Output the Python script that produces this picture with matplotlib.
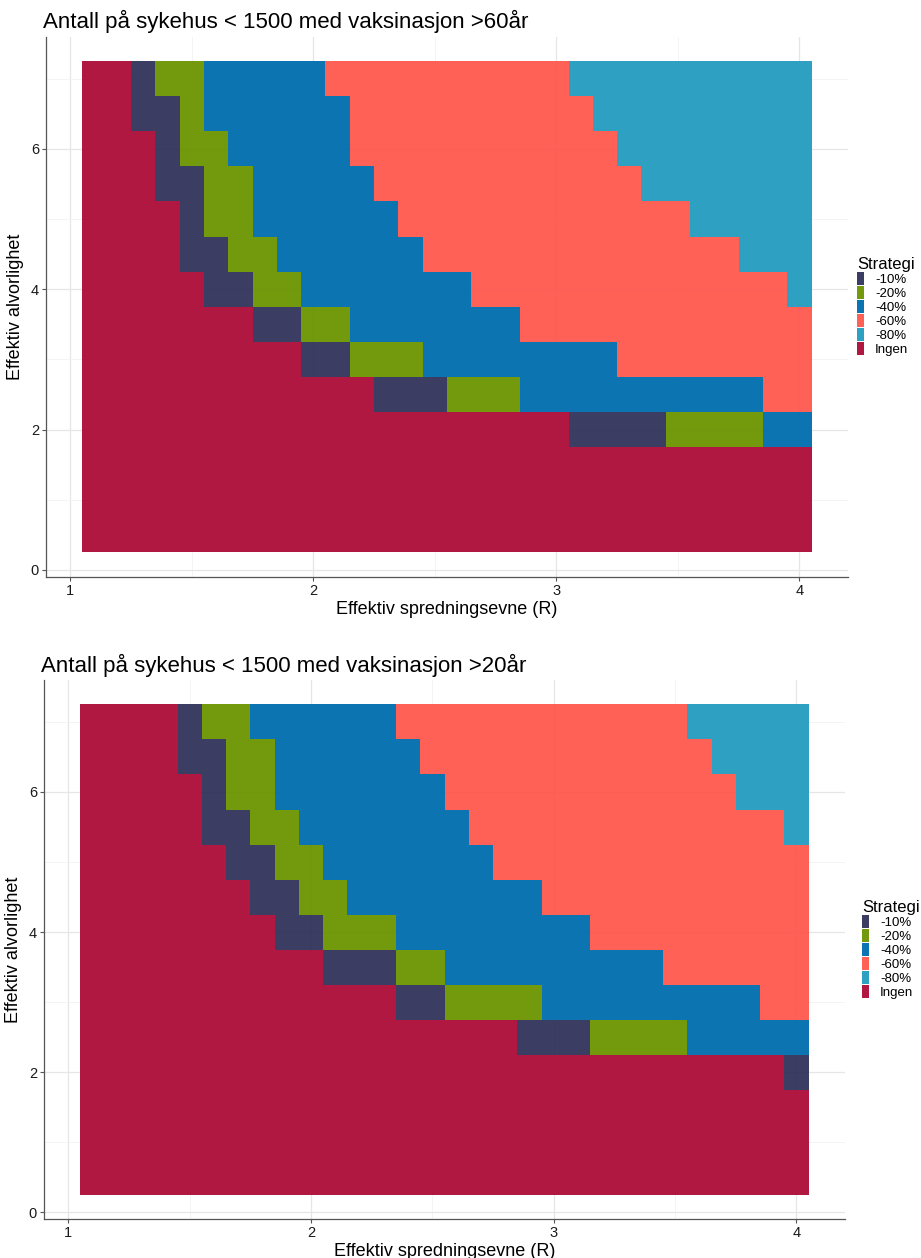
import numpy as np
import matplotlib
matplotlib.use("Agg")
import matplotlib.pyplot as plt
from matplotlib.colors import ListedColormap, BoundaryNorm
from matplotlib.patches import Patch

plt.rcParams['font.family'] = ['Liberation Sans', 'DejaVu Sans']

# effective R (columns) and effective severity (rows)
r_values = [1.1, 1.2, 1.3, 1.4, 1.5, 1.6, 1.7, 1.8, 1.9, 2.0,
            2.1, 2.2, 2.3, 2.4, 2.5, 2.6, 2.7, 2.8, 2.9, 3.0,
            3.1, 3.2, 3.3, 3.4, 3.5, 3.6, 3.7, 3.8, 3.9, 4.0]
severity = [0.5, 1.0, 1.5, 2.0, 2.5, 3.0, 3.5, 4.0, 4.5, 5.0, 5.5, 6.0, 6.5, 7.0]

# strategies from weakest to strongest
levels = ['Ingen', '-10%', '-20%', '-40%', '-60%', '-80%']
legend_order = ['-10%', '-20%', '-40%', '-60%', '-80%', 'Ingen']
level_colors = ['#AC0B37', '#30335A', '#6B9400', '#006DAE', '#FF584E', '#239BBE']

# number of R columns per strategy, one row per severity value (bottom to top)
runs_60 = [
    [30, 0, 0, 0, 0, 0],
    [30, 0, 0, 0, 0, 0],
    [30, 0, 0, 0, 0, 0],
    [20, 4, 4, 2, 0, 0],
    [12, 3, 3, 10, 2, 0],
    [9, 2, 3, 8, 8, 0],
    [7, 2, 2, 7, 12, 0],
    [5, 2, 2, 7, 13, 1],
    [4, 2, 2, 6, 13, 3],
    [4, 1, 2, 6, 12, 5],
    [3, 2, 2, 5, 11, 7],
    [3, 1, 2, 5, 11, 8],
    [2, 2, 1, 6, 10, 9],
    [2, 1, 2, 5, 10, 10],
]
runs_20 = [
    [30, 0, 0, 0, 0, 0],
    [30, 0, 0, 0, 0, 0],
    [30, 0, 0, 0, 0, 0],
    [29, 1, 0, 0, 0, 0],
    [18, 3, 4, 5, 0, 0],
    [13, 2, 4, 9, 2, 0],
    [10, 3, 2, 9, 6, 0],
    [8, 2, 3, 8, 9, 0],
    [7, 2, 2, 8, 11, 0],
    [6, 2, 2, 7, 13, 0],
    [5, 2, 2, 7, 13, 1],
    [5, 1, 2, 7, 12, 3],
    [4, 2, 2, 6, 12, 4],
    [4, 1, 2, 6, 12, 5],
]

W, H = 921, 1258
# (title, data, axes rect in px: left, top, right, bottom, legend left px)
panels = [
    ('Antall på sykehus < 1500 med vaksinasjon >60år', runs_60, (46, 36.5, 848, 577), 857),
    ('Antall på sykehus < 1500 med vaksinasjon >20år', runs_20, (44, 680, 845, 1219), 862),
]

cmap = ListedColormap(level_colors)
norm = BoundaryNorm(np.arange(-0.5, len(levels)), cmap.N)

r = np.array(r_values)
s = np.array(severity)
x_edges = np.append(r - 0.05, r[-1] + 0.05)
y_edges = np.append(s - 0.25, s[-1] + 0.25)

fig = plt.figure(figsize=(W / 100, H / 100), dpi=100)

for title, runs, (l, t, rgt, b), leg_left in panels:
    ax = fig.add_axes([l / W, 1 - b / H, (rgt - l) / W, (b - t) / H])
    codes = np.array([np.repeat(np.arange(len(levels)), row) for row in runs])
    ax.pcolormesh(x_edges, y_edges, codes, cmap=cmap, norm=norm,
                  alpha=0.95, linewidth=0, zorder=2)

    ax.set_xlim(0.9, 4.2)
    ax.set_ylim(-0.1, 7.6)
    ax.set_xticks([1, 2, 3, 4])
    ax.set_yticks([0, 2, 4, 6])
    ax.set_xticks([1.5, 2.5, 3.5], minor=True)
    ax.set_yticks([1, 3, 5, 7], minor=True)
    ax.grid(which='major', color='#E6E6E6', linewidth=0.9, zorder=0)
    ax.grid(which='minor', color='#F3F3F3', linewidth=0.6, zorder=0)
    ax.set_axisbelow(True)
    ax.tick_params(which='major', length=3, width=0.8, color='#555555',
                   labelsize=10.5, labelcolor='#1a1a1a', pad=2)
    ax.tick_params(which='minor', length=0)
    for side in ['top', 'right']:
        ax.spines[side].set_visible(False)
    for side in ['left', 'bottom']:
        ax.spines[side].set_color('#555555')
        ax.spines[side].set_linewidth(0.9)

    ax.set_title(title, loc='left', fontsize=16, pad=6, x=-0.004)
    ax.set_xlabel('Effektiv spredningsevne (R)', fontsize=13, labelpad=2)
    ax.set_ylabel('Effektiv alvorlighet', fontsize=13, labelpad=5)

    handles = [Patch(facecolor=level_colors[levels.index(k)], alpha=0.95,
                     edgecolor='none') for k in legend_order]
    ax.legend(handles, legend_order, title='Strategi', loc='center left',
              bbox_to_anchor=(leg_left / W, 1 - (t + b) / 2 / H),
              bbox_transform=fig.transFigure, frameon=False,
              fontsize=9.5, title_fontsize=12, handlelength=0.56,
              handleheight=1.15, labelspacing=0.0, handletextpad=0.8,
              borderpad=0, borderaxespad=0, alignment='left')

fig.savefig('out.png', dpi=100)
